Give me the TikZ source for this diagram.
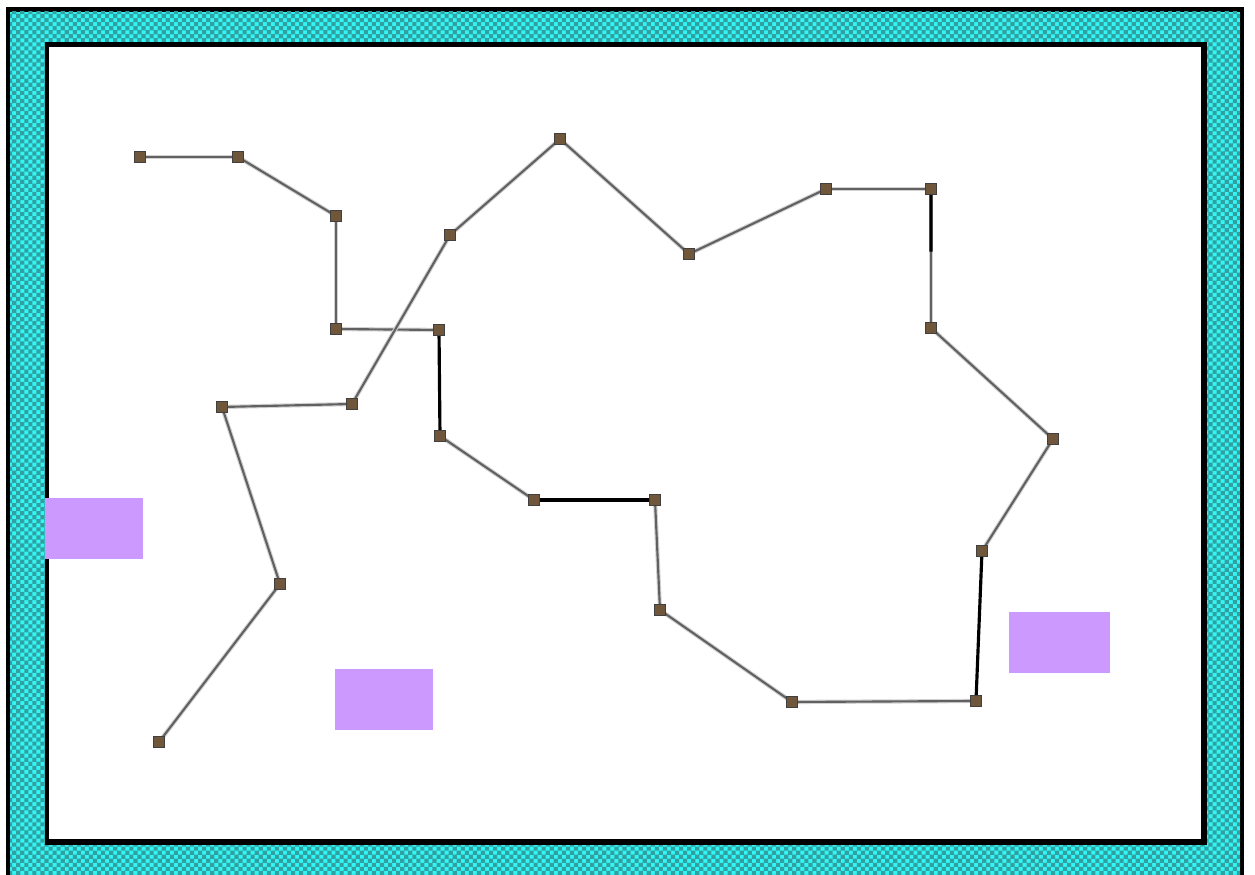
\documentclass[tikz,border=0pt]{standalone}
\usepackage{xcolor}
\usepackage{tikz}
\usetikzlibrary{calc, patterns, backgrounds}

\definecolor{framecyan}{RGB}{50,245,245}
\definecolor{frameteal}{RGB}{50,160,160}
\definecolor{zonepurple}{RGB}{204,153,255}
\definecolor{pinbrown}{RGB}{112,86,58}

\pgfdeclarelayer{frame}
\pgfsetlayers{frame,background,main}

% fine checker for the frame band
\pgfdeclarepatternformonly{finechecker}{\pgfqpoint{-.05pt}{-.05pt}}{\pgfqpoint{2.35pt}{2.35pt}}{\pgfqpoint{2.3pt}{2.3pt}}{
  \pgfpathrectangle{\pgfqpoint{0pt}{0pt}}{\pgfqpoint{1.18pt}{1.18pt}}
  \pgfpathrectangle{\pgfqpoint{1.15pt}{1.15pt}}{\pgfqpoint{1.18pt}{1.18pt}}
  \pgfusepath{fill}}

\begin{document}
\begin{tikzpicture}[
        pin/.style = {rectangle, fill=pinbrown, draw=black!75, line width=0.3pt, inner sep=0pt, minimum size=0.11cm},
        link/.style = {draw=black!18, line width=1.2pt, postaction={draw=black!62, line width=0.6pt}},
        hard/.style = {draw=black, line width=0.9pt},
        zone/.style = {fill=zonepurple, draw=none}
    ]
    \useasboundingbox (0,0) rectangle (12.55,8.75);

    % frame and purple zones
    \begin{pgfonlayer}{frame}
    \fill[black] (0.06,0) rectangle (12.44,8.68);
    \fill[framecyan] (0.10,0) rectangle (12.40,8.63);
    \fill[pattern=finechecker, pattern color=frameteal] (0.10,0) rectangle (12.40,8.63);
    \fill[black] (0.45,0.30) rectangle (12.07,8.33);
    \fill[white] (0.49,0.36) rectangle (12.01,8.28);
    \fill[zone] (0.45,3.16) rectangle (1.43,3.77);
    \fill[zone] (3.35,1.45) rectangle (4.33,2.06);
    \fill[zone] (10.09,2.02) rectangle (11.10,2.63);
    \end{pgfonlayer}

    % pins
    \node[pin] (p1) at (1.40,7.18) {};
    \node[pin] (p2) at (2.38,7.18) {};
    \node[pin] (p3) at (3.36,6.59) {};
    \node[pin] (p4) at (3.36,5.46) {};
    \node[pin] (p5) at (4.39,5.45) {};
    \node[pin] (p6) at (4.40,4.39) {};
    \node[pin] (p7) at (5.34,3.75) {};
    \node[pin] (p8) at (6.55,3.75) {};
    \node[pin] (p9) at (6.60,2.65) {};
    \node[pin] (p10) at (7.92,1.73) {};
    \node[pin] (p11) at (9.76,1.74) {};
    \node[pin] (p12) at (9.82,3.24) {};
    \node[pin] (p13) at (10.53,4.36) {};
    \node[pin] (p14) at (9.31,5.47) {};
    \node[pin] (p15) at (9.31,6.86) {};
    \node[pin] (p16) at (8.26,6.86) {};
    \node[pin] (p17) at (6.89,6.21) {};
    \node[pin] (p18) at (5.60,7.36) {};
    \node[pin] (p19) at (4.50,6.40) {};
    \node[pin] (p20) at (3.52,4.71) {};
    \node[pin] (p21) at (2.22,4.68) {};
    \node[pin] (p22) at (2.80,2.91) {};
    \node[pin] (p23) at (1.59,1.33) {};

    % links
    \begin{scope}[on background layer]
    \draw[link] (p1.center) -- (p2.center);
    \draw[link] (p2.center) -- (p3.center);
    \draw[link] (p3.center) -- (p4.center);
    \draw[link] (p4.center) -- (p5.center);
    \draw[hard] (p5.center) -- (p6.center);
    \draw[link] (p6.center) -- (p7.center);
    \draw[hard] (p7.center) -- (p8.center);
    \draw[link] (p8.center) -- (p9.center);
    \draw[link] (p9.center) -- (p10.center);
    \draw[link] (p10.center) -- (p11.center);
    \draw[hard] (p11.center) -- (p12.center);
    \draw[link] (p12.center) -- (p13.center);
    \draw[link] (p13.center) -- (p14.center);
    \draw[link] (p14.center) -- (p15.center);
    \draw[hard] (p15.center) -- ($(p15)!0.45!(p14)$);
    \draw[link] (p15.center) -- (p16.center);
    \draw[link] (p16.center) -- (p17.center);
    \draw[link] (p17.center) -- (p18.center);
    \draw[link] (p18.center) -- (p19.center);
    \draw[link] (p19.center) -- (p20.center);
    \draw[link] (p20.center) -- (p21.center);
    \draw[link] (p21.center) -- (p22.center);
    \draw[link] (p22.center) -- (p23.center);
    \end{scope}
\end{tikzpicture}
\end{document}
